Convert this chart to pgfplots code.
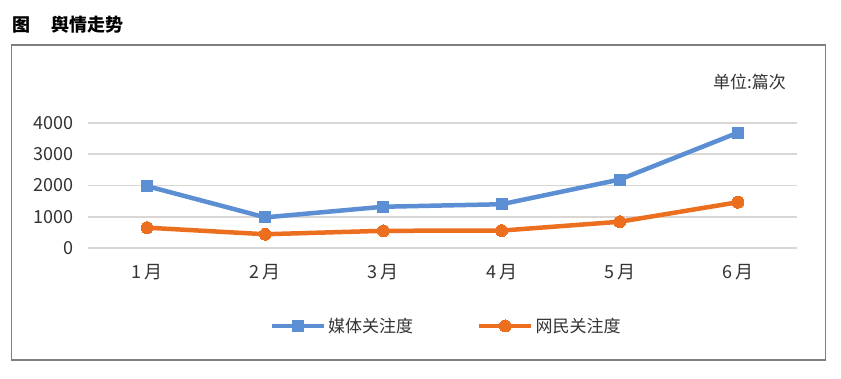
\documentclass[border=0pt]{standalone}
\usepackage{pgfplots}
\pgfplotsset{compat=1.18}
\usepackage{fontspec}
\setmainfont{Noto Sans CJK SC}
\definecolor{mblue}{HTML}{5B8ED3}
\definecolor{morange}{HTML}{EB6F1F}
\definecolor{gridc}{HTML}{D9D6D4}
\definecolor{framec}{HTML}{7F7F7F}
\begin{document}
\begin{tikzpicture}[x=1pt,y=1pt]
\path[use as bounding box] (0,0) rectangle (841,379);
\draw[framec,line width=1.2pt] (11.5,334) rectangle (825.5,19);
\node[anchor=west,font=\fontsize{18}{20}\selectfont\bfseries,inner sep=0pt] at (12,354) {图\hspace{1.2em}舆情走势};
\node[anchor=east,font=\fontsize{17}{19}\selectfont,text=black!80,inner sep=0pt] at (786,297) {单位:篇次};
\begin{axis}[
  at={(88pt,131pt)}, anchor=south west,
  scale only axis, width=709pt, height=125pt,
  xmin=-0.5, xmax=5.5, ymin=0, ymax=4000,
  xtick={0,...,5}, xticklabels={1\,月,2\,月,3\,月,4\,月,5\,月,6\,月},
  ytick={0,1000,2000,3000,4000},
  /pgf/number format/assume math mode=true,
  yticklabel style={/pgf/number format/1000 sep={}},
  axis line style={draw=none},
  major tick length=0pt,
  ymajorgrids, grid style={gridc,line width=1.6pt},
  tick label style={font=\fontsize{18}{20}\selectfont,text=black!80},
  xticklabel style={yshift=-13pt},
  yticklabel style={xshift=-11pt},
  clip=false,
  legend columns=2,
  legend style={at={(0.505,-0.624)},anchor=center,draw=none,fill=none,
    font=\fontsize{17}{19}\selectfont,text=black!80,
    /tikz/every even column/.append style={column sep=62pt}},
  legend image code/.code={\draw[mark repeat=2,mark phase=2] plot coordinates {(0pt,0pt)(26pt,0pt)(52pt,0pt)};},
]
\addplot[mblue,line width=4.5pt,mark=square*,mark size=5.5pt,mark options={line width=0pt}] coordinates {(0,1980)(1,980)(2,1320)(3,1400)(4,2190)(5,3690)};
\addlegendentry{媒体关注度}
\addplot[morange,line width=4.5pt,mark=*,mark size=6pt,mark options={line width=0pt}] coordinates {(0,650)(1,440)(2,550)(3,557)(4,840)(5,1465)};
\addlegendentry{网民关注度}
\end{axis}
\end{tikzpicture}
\end{document}
